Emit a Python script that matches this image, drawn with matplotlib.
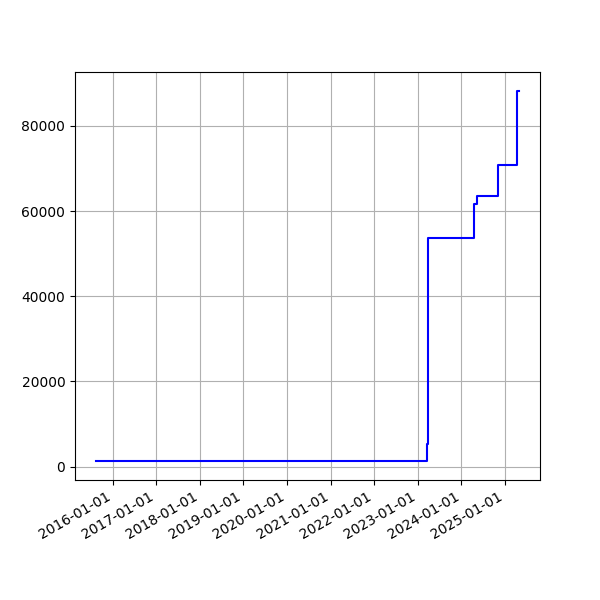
import numpy as np
import pandas as pd
import matplotlib
matplotlib.use("Agg")
from matplotlib import pyplot as plt
import matplotlib.dates as mdates

# valeurs
dates = ["2015-08-15", "2023-03-17", "2023-03-24", "2024-04-20",
         "2024-05-10", "2024-11-01", "2025-04-12", "2025-04-27"]
values = [1200, 5200, 53600, 61600, 63600, 70700, 88300, 88300]


def main():
    x = pd.to_datetime(dates)
    y = np.array(values)

    fig, ax = plt.subplots(figsize=(6, 6), dpi=100)
    ax.plot(x, y, color="b", drawstyle="steps-post")
    ax.xaxis.set_major_locator(mdates.YearLocator())
    ax.xaxis.set_major_formatter(mdates.DateFormatter("%Y-%m-%d"))
    ax.grid(True)
    fig.autofmt_xdate()
    fig.savefig("out.png", dpi=100)


if __name__ == "__main__":
    main()
